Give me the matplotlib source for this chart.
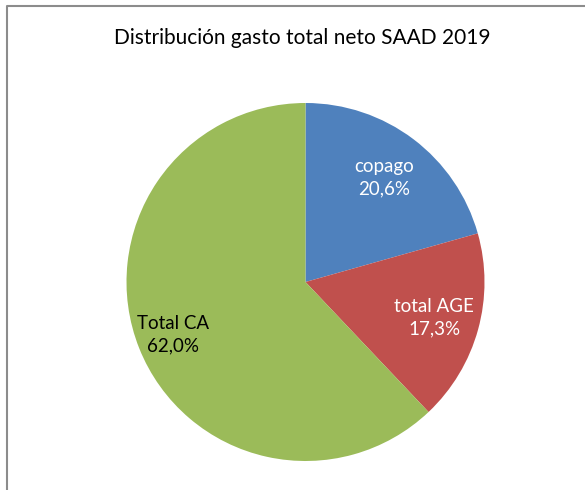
import numpy as np
import matplotlib.pyplot as plt

plt.rcParams['font.family'] = ['Lato', 'DejaVu Sans']

categories = ['copago', 'total AGE', 'Total CA']
values = [20.6, 17.3, 62.0]
colors = ['#4F81BD', '#C0504D', '#9BBB59']
text_colors = ['white', 'white', 'black']
label_dist = [0.73, 0.745, 0.795]

fig = plt.figure(figsize=(5.85, 4.9), dpi=100)
ax = fig.add_axes([0, 0, 1, 1])

# chart frame (only top and left edges visible in the crop)
ax.plot([7, 7, 585], [0, 484, 484], color='#8c8c8c', lw=1.5, solid_capstyle='butt')

cx, cy, r = 305.5, 208, 179
wedges, _ = ax.pie(values, colors=colors, startangle=90, counterclock=False,
                   center=(cx, cy), radius=r, frame=True,
                   wedgeprops=dict(linewidth=0))
ax.set_xlim(0, 585)
ax.set_ylim(0, 490)
ax.set_aspect('equal')
ax.axis('off')

for w, cat, v, tc, d in zip(wedges, categories, values, text_colors, label_dist):
    ang = np.deg2rad((w.theta1 + w.theta2) / 2)
    x = cx + d * r * np.cos(ang)
    y = cy + d * r * np.sin(ang)
    pct = f"{v:.1f}%".replace('.', ',')
    ax.text(x, y, f"{cat}\n{pct}", ha='center', va='center', color=tc,
            fontsize=13.5, linespacing=1.35)

ax.text(302, 452, 'Distribución gasto total neto SAAD 2019', ha='center',
        va='center', fontsize=15, color='black')

fig.savefig('out.png', dpi=100)
